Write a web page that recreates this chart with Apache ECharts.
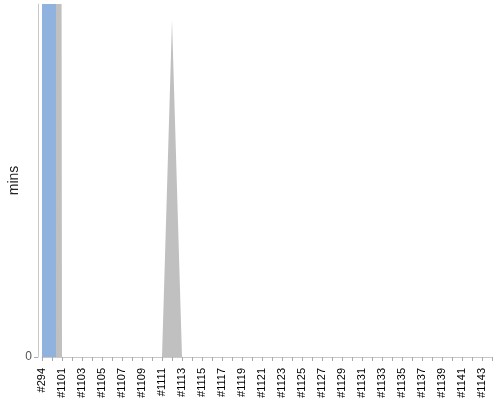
<!DOCTYPE html>
<html>
<head>
<meta charset="utf-8">
<script src="https://cdn.jsdelivr.net/npm/echarts@6/dist/echarts.min.js"></script>
<style>html,body{margin:0;padding:0;background:#fff}#c{width:500px;height:400px}</style>
</head>
<body>
<div id="c"></div>
<script>
var categories = ['#294','#1100','#1101','#1102','#1103','#1104','#1105','#1106','#1107','#1108','#1109','#1110','#1111','#1112','#1113','#1114','#1115','#1116','#1117','#1118','#1119','#1120','#1121','#1122','#1123','#1124','#1125','#1126','#1127','#1128','#1129','#1130','#1131','#1132','#1133','#1134','#1135','#1136','#1137','#1138','#1139','#1140','#1141','#1142','#1143','#1144'];
var areaValues = [120,120,0,0,0,0,0,0,0,0,0,0,0,4.77,0,0,0,0,0,0,0,0,0,0,0,0,0,0,0,0,0,0,0,0,0,0,0,0,0,0,0,0,0,0,0,0];
var barValues = [95,'-','-','-','-','-','-','-','-','-','-','-','-','-','-','-','-','-','-','-','-','-','-','-','-','-','-','-','-','-','-','-','-','-','-','-','-','-','-','-','-','-','-','-','-','-'];
var placeholder = categories.map(function(){return '-';});
var yMax = 5;

var chart = echarts.init(document.getElementById('c'));
chart.setOption({
  animation: false,
  textStyle: {fontFamily: 'Liberation Sans, Arial, sans-serif'},
  grid: {left: 42, right: 8, top: 4, bottom: 43, containLabel: false, outerBoundsMode: 'none'},
  xAxis: {
    type: 'category',
    data: categories,
    boundaryGap: false,
    axisLine: {lineStyle: {color: '#c8c8c8'}},
    axisTick: {show: true, interval: 0, length: 4, lineStyle: {color: '#aaa'}},
    axisLabel: {interval: 1, rotate: 90, fontSize: 11, color: '#000', margin: 11},
    splitLine: {show: false}
  },
  yAxis: {
    type: 'value',
    min: 0, max: yMax,
    offset: 4,
    name: 'mins',
    nameLocation: 'middle',
    nameGap: 17,
    nameMoveOverlap: false,
    nameTextStyle: {fontSize: 14, color: '#222'},
    axisLine: {show: true, lineStyle: {color: '#c8c8c8'}},
    axisTick: {show: true, length: 4, customValues: [0], lineStyle: {color: '#aaa'}},
    axisLabel: {customValues: [0], fontSize: 12, color: '#555', margin: 6},
    splitLine: {show: false}
  },
  series: [
    {
      type: 'line',
      z: 1,
      data: areaValues,
      symbol: 'none',
      lineStyle: {width: 0, color: '#c0c0c0'},
      itemStyle: {color: '#c0c0c0'},
      areaStyle: {color: '#c0c0c0', opacity: 1},
      clip: true
    },
    {
      type: 'bar',
      z: 3,
      data: placeholder,
      barWidth: 14,
      barGap: '0%',
      itemStyle: {color: 'rgba(0,0,0,0)'}
    },
    {
      type: 'bar',
      z: 3,
      data: barValues,
      barWidth: 14,
      barGap: '0%',
      itemStyle: {color: '#8fb3de'},
      clip: true
    }
  ]
});
</script>
</body>
</html>
